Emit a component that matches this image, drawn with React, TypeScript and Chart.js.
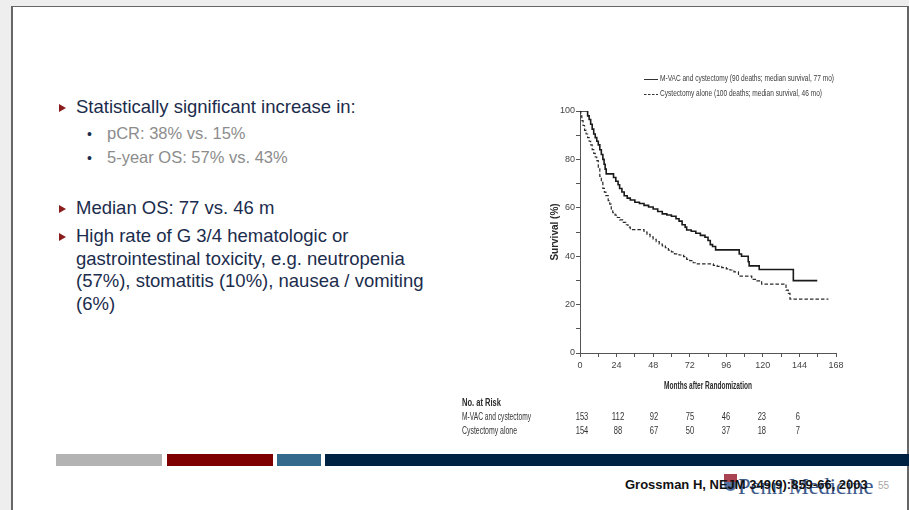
import React, { useEffect, useRef } from "react";
import { Chart, registerables } from "chart.js";

Chart.register(...registerables);

// ---- Data ----
const mvacMonths = [0, 4, 5, 6, 7, 8, 9, 10, 11, 12, 13, 14, 15, 15.8, 16.5, 17.2, 22, 23.5, 25, 26, 27.5, 29, 31, 33, 36, 39, 42, 45, 48, 51, 54, 57, 60, 63, 65, 67, 69, 70, 73, 76, 79, 82, 84, 85.5, 87, 89, 104.5, 106, 110.4, 111, 117.6, 140, 155.7];
const mvacSurvival = [100, 100, 98, 96.5, 94.5, 92.5, 90.5, 89, 87.5, 86, 84, 82, 80, 78, 76, 74, 72.5, 71, 69.5, 68, 66.5, 65, 64, 63.2, 62.3, 61.8, 61, 60.3, 59.5, 58.5, 57.5, 57, 56.5, 55.5, 54.5, 53, 52, 50.8, 50.3, 49.5, 48.6, 47.8, 46.5, 44.8, 44, 42.6, 40.9, 40, 37.7, 36, 34.5, 29.9, 29.9];

const cystMonths = [0, 0.5, 1.2, 2, 3, 4, 5, 6, 7, 8, 9, 10, 11, 12, 13, 14, 15, 16, 17, 18.5, 19.5, 20.5, 21.5, 23, 24.5, 26, 28, 30, 31.5, 33, 42, 44, 46, 48, 50, 52, 54, 56, 58, 60, 62, 65, 68, 70, 72, 74.3, 77, 87.5, 90, 93, 96, 98.4, 101, 104, 112.7, 116, 119.2, 135.2, 136.7, 137.8, 163];
const cystSurvival = [100, 98, 96, 94, 92, 90.5, 89, 87.5, 86, 84, 82.5, 81, 79.5, 76.5, 73, 70.5, 68, 66.5, 65, 63, 61.5, 59.5, 58, 57, 56, 55, 54, 53, 52, 51, 50, 49, 48, 47, 46, 45, 44.3, 43.5, 42.5, 41.8, 41, 40.5, 39.8, 38.7, 38.2, 37.3, 36.8, 36.2, 35.8, 35.3, 34.8, 34.3, 33.5, 31.8, 30.4, 29.8, 28.5, 26, 24.6, 22.3, 22.3];

const xMax = 168;
const xLabelStep = 24;
const yLabelStep = 20;
const riskTimes = [0, 24, 48, 72, 96, 120, 144];
const riskMvac = [153, 112, 92, 75, 46, 23, 6];
const riskCyst = [154, 88, 67, 50, 37, 18, 7];
const seriesNames = ["M-VAC and cystectomy", "Cystectomy alone"];
const legendLabels = [
  "M-VAC and cystectomy (90 deaths; median survival, 77 mo)",
  "Cystectomy alone (100 deaths; median survival, 46 mo)",
];
const xTitle = "Months after Randomization";
const yTitle = "Survival (%)";
const riskTitle = "No. at Risk";

const SANS = "'Liberation Sans', Arial, sans-serif";

const toPoints = (xs: number[], ys: number[]) => xs.map((x, i) => ({ x, y: ys[i] }));

const overlayPlugin = {
  id: "kmOverlay",
  afterDraw(chart: any) {
    const ctx = chart.ctx;
    const xs = chart.scales.x;
    const area = chart.chartArea;
    ctx.save();
    ctx.textBaseline = "middle";
    // axis titles (condensed)
    ctx.fillStyle = "#2a2a2a";
    ctx.font = `bold 10px ${SANS}`;
    ctx.textAlign = "center";
    ctx.fillText(xTitle, (area.left + area.right) / 2, 320, 88);
    ctx.save();
    ctx.translate(103, (area.top + area.bottom) / 2);
    ctx.rotate(-Math.PI / 2);
    ctx.font = `bold 10px ${SANS}`;
    ctx.fillText(yTitle, 0, 0, 64);
    ctx.restore();
    // legend
    const legendX0 = 192, legendX1 = 206, textX = 208;
    const rows = [13, 28];
    const widths = [174, 162];
    ctx.fillStyle = "#3a3a3a";
    ctx.font = `9px ${SANS}`;
    ctx.textAlign = "left";
    rows.forEach((y, i) => {
      ctx.beginPath();
      ctx.strokeStyle = "#333";
      ctx.lineWidth = 1;
      ctx.setLineDash(i === 0 ? [] : [2.5, 1.5]);
      ctx.moveTo(legendX0, y + 0.5);
      ctx.lineTo(legendX1, y + 0.5);
      ctx.stroke();
      ctx.setLineDash([]);
      ctx.fillText(legendLabels[i], textX, y, widths[i]);
    });
    // risk table
    ctx.fillStyle = "#2a2a2a";
    ctx.font = `bold 10.5px ${SANS}`;
    ctx.fillText(riskTitle, 10, 337, 39);
    ctx.fillStyle = "#333";
    ctx.font = `10px ${SANS}`;
    ctx.fillText(seriesNames[0], 10, 351, 69);
    ctx.fillText(seriesNames[1], 10, 365, 55);
    ctx.textAlign = "center";
    riskTimes.forEach((t, i) => {
      const px = xs.getPixelForValue(t) + 2 - i * 0.6;
      const a = String(riskMvac[i]);
      const b = String(riskCyst[i]);
      ctx.fillText(a, px, 351, a.length * 4.2);
      ctx.fillText(b, px, 365, b.length * 4.2);
    });
    ctx.restore();
  },
};

function KMChart() {
  const ref = useRef<HTMLCanvasElement>(null);
  useEffect(() => {
    if (!ref.current) return;
    const chart = new Chart(ref.current, {
      type: "line",
      data: {
        datasets: [
          {
            label: seriesNames[0],
            data: toPoints(mvacMonths, mvacSurvival),
            borderColor: "#1a1a1a",
            borderWidth: 1.6,
            pointRadius: 0,
            stepped: true,
            fill: false,
          },
          {
            label: seriesNames[1],
            data: toPoints(cystMonths, cystSurvival),
            borderColor: "#2a2a2a",
            borderWidth: 1.2,
            borderDash: [3.5, 2],
            pointRadius: 0,
            stepped: true,
            fill: false,
          },
        ],
      },
      options: {
        animation: false,
        responsive: false,
        maintainAspectRatio: false,
        layout: { padding: { left: 98, right: 12, top: 45, bottom: 55 } },
        plugins: { legend: { display: false }, tooltip: { enabled: false } },
        scales: {
          x: {
            type: "linear",
            min: 0,
            max: xMax,
            afterFit: (s: any) => { s.height = 38; },
            ticks: {
              stepSize: 12,
              autoSkip: false,
              maxRotation: 0,
              padding: 3,
              color: "#444",
              font: { family: SANS, size: 9 },
              callback: (v: any) => (Number(v) % xLabelStep === 0 ? String(v) : ""),
            },
            grid: { drawOnChartArea: false, drawTicks: true, tickLength: 4, color: "#555", lineWidth: 1 },
            border: { display: true, color: "#555", width: 1 },
          },
          y: {
            type: "linear",
            min: 0,
            max: 100,
            afterFit: (s: any) => { s.width = 30; },
            ticks: {
              stepSize: 10,
              autoSkip: false,
              padding: 1,
              color: "#444",
              font: { family: SANS, size: 9 },
              callback: (v: any) => (Number(v) % yLabelStep === 0 ? String(v) : ""),
            },
            grid: { drawOnChartArea: false, drawTicks: true, tickLength: 4, color: "#555", lineWidth: 1 },
            border: { display: true, color: "#555", width: 1 },
          },
        },
      },
      plugins: [overlayPlugin],
    });
    return () => chart.destroy();
  }, []);
  return <canvas ref={ref} width={396} height={380} style={{ position: "absolute", left: 452, top: 66, width: 396, height: 380 }} />;
}

const NAVY = "#1b2c4c";

function Marker({ top }: { top: number }) {
  return (
    <div style={{ position: "absolute", left: 59, top, width: 0, height: 0, borderTop: "4px solid transparent", borderBottom: "4px solid transparent", borderLeft: "7px solid #8b1c1c" }} />
  );
}

function Line({ left, top, text, size, color }: { left: number; top: number; text: string; size: number; color: string }) {
  return (
    <div style={{ position: "absolute", left, top, fontFamily: SANS, fontSize: size, color, whiteSpace: "nowrap", lineHeight: 1 }}>{text}</div>
  );
}

export default function App() {
  return (
    <div style={{ position: "fixed", left: 0, top: 0, width: 909, height: 510, background: "#eeeeee", overflow: "hidden" }}>
      <div style={{ position: "absolute", left: 11, top: 6, width: 894, height: 520, background: "#ffffff", border: "1px solid #666", borderRightWidth: 2, borderTopWidth: 1, borderLeftWidth: 2 }} />
      <Marker top={104} />
      <Line left={76} top={98} text="Statistically significant increase in:" size={18.5} color={NAVY} />
      <div style={{ position: "absolute", left: 87, top: 127, fontSize: 14, color: NAVY, fontFamily: SANS, lineHeight: 1 }}>•</div>
      <Line left={107} top={125} text="pCR: 38% vs. 15%" size={16.5} color="#8c8c8c" />
      <div style={{ position: "absolute", left: 87, top: 151, fontSize: 14, color: NAVY, fontFamily: SANS, lineHeight: 1 }}>•</div>
      <Line left={107} top={149} text="5-year OS: 57% vs. 43%" size={16.5} color="#8c8c8c" />
      <Marker top={205} />
      <Line left={76} top={199} text="Median OS: 77 vs. 46 m" size={18.5} color={NAVY} />
      <Marker top={233} />
      <Line left={76} top={227} text="High rate of G 3/4 hematologic or" size={18.5} color={NAVY} />
      <Line left={76} top={249.5} text="gastrointestinal toxicity, e.g. neutropenia" size={18.5} color={NAVY} />
      <Line left={76} top={272} text="(57%), stomatitis (10%), nausea / vomiting" size={18.5} color={NAVY} />
      <Line left={76} top={294.5} text="(6%)" size={18.5} color={NAVY} />

      <KMChart />

      <div style={{ position: "absolute", left: 56, top: 454, width: 106, height: 12, background: "#b3b3b3" }} />
      <div style={{ position: "absolute", left: 167, top: 454, width: 106, height: 12, background: "#7f0000" }} />
      <div style={{ position: "absolute", left: 277, top: 454, width: 44, height: 12, background: "#336a8c" }} />
      <div style={{ position: "absolute", left: 325, top: 454, width: 584, height: 12, background: "#002242" }} />

      <div style={{ position: "absolute", left: 724, top: 474, width: 13, height: 8, background: "#9b2233", opacity: 0.85 }} />
      <div style={{ position: "absolute", left: 724, top: 482, width: 13, height: 9, background: "#3a5a90", borderRadius: "0 0 7px 7px", opacity: 0.85 }} />
      <div style={{ position: "absolute", left: 738, top: 476, fontFamily: "'Liberation Serif', 'DejaVu Serif', serif", fontSize: 22.5, color: "#2a4a80", whiteSpace: "nowrap", lineHeight: 1, opacity: 0.9 }}>Penn Medicine</div>
      <div style={{ position: "absolute", left: 625, top: 478, fontFamily: SANS, fontSize: 13, fontWeight: "bold", color: "#111", whiteSpace: "nowrap", lineHeight: 1 }}>Grossman H, NEJM 349(9):859-66, 2003</div>
      <div style={{ position: "absolute", left: 878, top: 481, fontFamily: SANS, fontSize: 10, color: "#a8a8a8", lineHeight: 1 }}>55</div>
    </div>
  );
}
